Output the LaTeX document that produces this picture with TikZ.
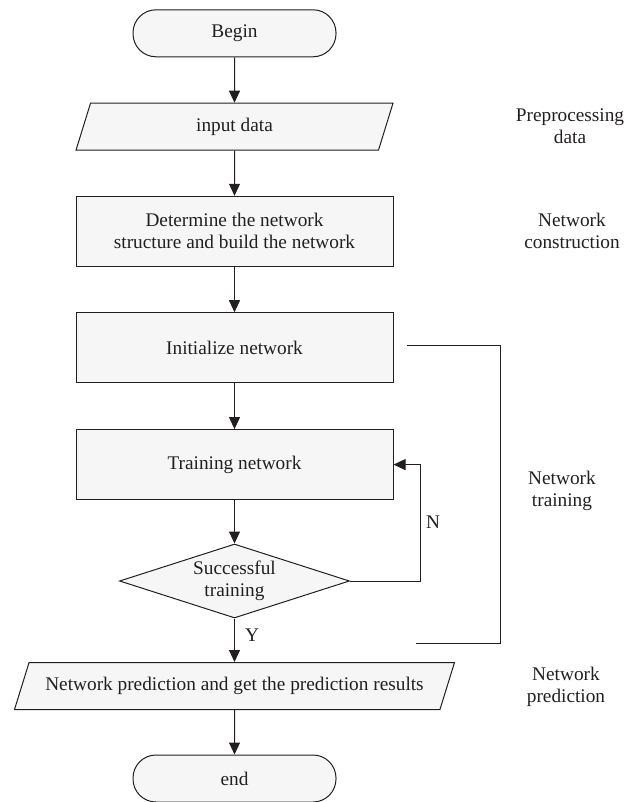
\documentclass[tikz,border=0pt]{standalone}
\usepackage{fontspec}
\setmainfont{Liberation Serif}
\usetikzlibrary{shapes.geometric,arrows.meta}
\definecolor{boxfill}{HTML}{F6F6F6}
\definecolor{ink}{HTML}{231F20}
\begin{document}
\begin{tikzpicture}[x=1pt,y=-1pt,line width=1pt,color=ink,
    font=\fontsize{19.3}{22}\selectfont,
    term/.style={draw,fill=boxfill,rounded corners=23pt,minimum width=203pt,minimum height=47pt},
    io/.style={draw,fill=boxfill,trapezium,trapezium left angle=59,trapezium right angle=121,
      trapezium stretches body,minimum height=47pt},
    proc/.style={draw,fill=boxfill,align=center,minimum width=317pt,minimum height=70pt},
    dec/.style={draw,fill=boxfill,diamond,align=center,aspect=3.1,inner sep=0pt,
      minimum width=230pt,minimum height=74pt},
    side/.style={align=center},
    flow/.style={-{Triangle[length=12pt,width=11pt]}}]
  \useasboundingbox (0,0) rectangle (627,802);
  % main column
  \node[term] (begin) at (234.5,33.3) {Begin};
  \node[io,minimum width=317pt] (input) at (234.5,126.7) {input data};
  \node[proc] (build) at (234.5,231.3) {Determine the network\\structure and build the network};
  \node[proc] (init) at (234.5,347.7) {Initialize network};
  \node[proc] (train) at (234.5,464.6) {Training network};
  \node[dec] (check) at (234.5,581) {Successful\\training};
  \node[io,minimum width=440pt] (pred) at (234.5,686) {Network prediction and get the prediction results};
  \node[term] (stop) at (234.5,778.5) {end};
  \foreach \a/\b in {begin/input,input/build,build/init,init/train,train/check,check/pred,pred/stop}
    \draw[flow] (\a) -- (\b);
  % loop back when training fails
  \coordinate (loop) at (420.7,581);
  \draw[flow] (check.east) -- (loop) |- (train.east);
  \node (no) at (433,522) {N};
  \node (yes) at (252,635) {Y};
  % bracket of the training stage
  \coordinate (brtop) at (407,345.5);
  \coordinate (brbot) at (416,643.3);
  \draw (brtop) -- (500,345.5) |- (brbot);
  % stage labels
  \node[side] (lpre) at (570,126) {Preprocessing\\data};
  \node[side] (lcon) at (572,231) {Network\\construction};
  \node[side] (ltrain) at (562,491) {Network\\training};
  \node[side] (lpred) at (566,687) {Network\\prediction};
\end{tikzpicture}
\end{document}
